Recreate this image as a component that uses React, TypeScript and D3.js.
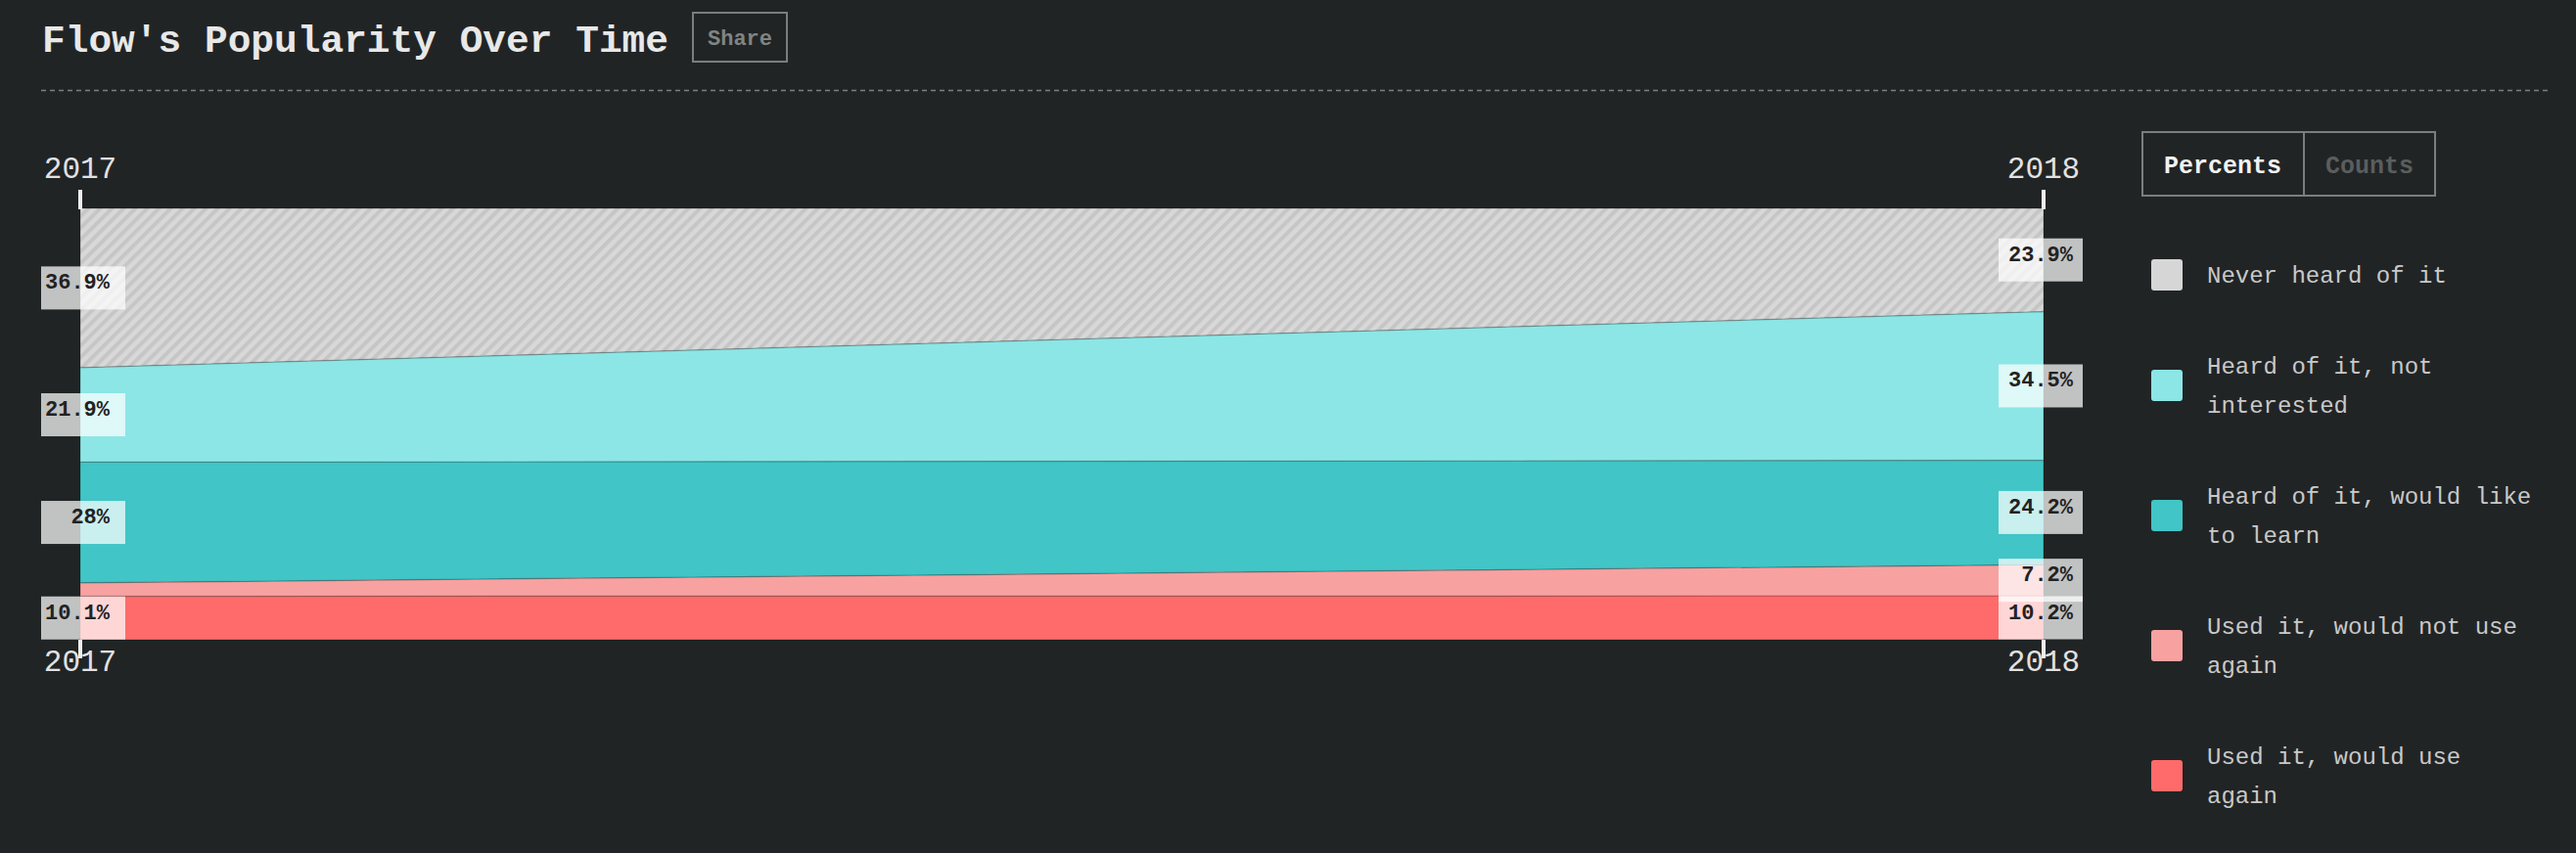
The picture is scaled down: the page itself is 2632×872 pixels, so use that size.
import { useEffect } from 'react';
import * as d3 from 'd3';

// Survey answers, bottom of the stack first
const years = [2017, 2018];
const categories = [
  'Used it, would use again',
  'Used it, would not use again',
  'Heard of it, would like to learn',
  'Heard of it, not interested',
  'Never heard of it',
];
const values2017 = [10.1, 3.1, 28, 21.9, 36.9];
const values2018 = [10.2, 7.2, 24.2, 34.5, 23.9];
const colors = ['#ff6b6b', '#f7a1a1', '#41c5c6', '#8ce6e6', 'url(#hatch)'];
const swatchColors = ['#ff6b6b', '#f7a1a1', '#41c5c6', '#8ce6e6', '#d6d6d6'];

const W = 2632;
const H = 872;
const FONT = '"Liberation Mono", "DejaVu Sans Mono", monospace';

// greedy word wrap for legend labels
function wrap(label: string, max: number) {
  const lines: string[] = [];
  let cur = '';
  label.split(' ').forEach(w => {
    const next = cur ? cur + ' ' + w : w;
    if (next.length > max && cur) {
      lines.push(cur);
      cur = w;
    } else cur = next;
  });
  if (cur) lines.push(cur);
  return lines;
}

export default function App() {
  useEffect(() => {
    document.body.style.margin = '0';
    document.body.style.background = '#212425';
  }, []);

  const rows = years.map((y, i) => {
    const row: Record<string, number> = { year: y };
    categories.forEach((c, j) => {
      row[c] = (i === 0 ? values2017 : values2018)[j];
    });
    return row;
  });

  const series = d3.stack<Record<string, number>>().keys(categories)(rows);

  const x = d3.scalePoint<number>().domain(years).range([82, 2088]);
  const y = d3.scaleLinear().domain([0, 100]).range([654, 213]);

  const area = d3.area<d3.SeriesPoint<Record<string, number>>>()
    .x(d => x(d.data.year) as number)
    .y0(d => y(d[0]))
    .y1(d => y(d[1]));

  // legend layout: blocks of 40px lines separated by 53px
  const legendItems = [...categories].reverse().map((c, i) => ({
    label: c,
    color: swatchColors[categories.length - 1 - i],
    lines: wrap(c, 23),
  }));
  let top = 261;
  const legendPos = legendItems.map(item => {
    const h = item.lines.length * 40;
    const p = { ...item, top, h };
    top += h + 53;
    return p;
  });

  return (
    <div style={{ position: 'absolute', left: 0, top: 0, width: W, height: H, background: '#212425' }}>
      <svg width={W} height={H} style={{ display: 'block', fontFamily: FONT }}>
        <defs>
          <pattern id="hatch" patternUnits="userSpaceOnUse" width={8.5} height={8.5} patternTransform="rotate(45)">
            <rect width={8.5} height={8.5} fill="#d8d8d8" />
            <line x1={2} y1={0} x2={2} y2={8.5} stroke="#c6c6c6" strokeWidth={4} />
          </pattern>
        </defs>
        <rect width={W} height={H} fill="#212425" />

        {/* header */}
        <text x={43} y={53} fontSize={39.5} fontWeight={700} fill="#e8e8e8">Flow's Popularity Over Time</text>
        <rect x={708} y={13} width={96} height={50} fill="none" stroke="#7a7e7e" strokeWidth={2} />
        <text x={756} y={46} fontSize={22} fontWeight={700} fill="#7f8585" textAnchor="middle">Share</text>
        <line x1={42} x2={2607} y1={92.5} y2={92.5} stroke="#7d8080" strokeWidth={1.5} strokeDasharray="5,4" />

        {/* stacked areas */}
        {series.map((s, i) => (
          <path key={s.key} d={area(s) || ''} fill={colors[i]} stroke="rgba(0,0,0,0.15)" strokeWidth={1.5} />
        ))}

        {/* year ticks and labels */}
        {years.map(yr => {
          const cx = x(yr) as number;
          return (
            <g key={yr}>
              <line x1={cx} x2={cx} y1={194} y2={214} stroke="#eeeeee" strokeWidth={4} />
              <line x1={cx} x2={cx} y1={654} y2={673} stroke="#eeeeee" strokeWidth={4} />
              <text x={cx} y={182} fontSize={31} fill="#e2e2e2" textAnchor="middle">{yr}</text>
              <text x={cx} y={686} fontSize={31} fill="#e2e2e2" textAnchor="middle">{yr}</text>
            </g>
          );
        })}

        {/* value labels */}
        {series.map(s =>
          s.map((d, j) => {
            const v = d[1] - d[0];
            if (v < 5) return null;
            const cx = x(d.data.year) as number;
            const mid = (y(d[0]) + y(d[1])) / 2;
            const bx = j === 0 ? cx - 40 : cx - 46;
            return (
              <g key={s.key + j}>
                <rect x={bx} y={mid - 22} width={86} height={44} fill="#ffffff" fillOpacity={0.72} />
                <text x={cx + 30} y={mid + 1} fontSize={22} fontWeight={700} fill="#222222" textAnchor="end">
                  {`${+v.toFixed(1)}%`}
                </text>
              </g>
            );
          })
        )}

        {/* percents / counts toggle */}
        <rect x={2189} y={135} width={299} height={65} fill="none" stroke="#7a7e7e" strokeWidth={2} />
        <line x1={2354} x2={2354} y1={135} y2={200} stroke="#7a7e7e" strokeWidth={2} />
        <text x={2271} y={177} fontSize={25} fontWeight={700} fill="#f2f2f2" textAnchor="middle">Percents</text>
        <text x={2421} y={177} fontSize={25} fontWeight={700} fill="#5a5e5e" textAnchor="middle">Counts</text>

        {/* legend */}
        {legendPos.map(item => (
          <g key={item.label}>
            <rect x={2198} y={item.top + item.h / 2 - 16} width={32} height={32} rx={3} fill={item.color} />
            {item.lines.map((ln, k) => (
              <text key={k} x={2255} y={item.top + k * 40 + 28} fontSize={24} fill="#c9c9c9">{ln}</text>
            ))}
          </g>
        ))}
      </svg>
    </div>
  );
}
